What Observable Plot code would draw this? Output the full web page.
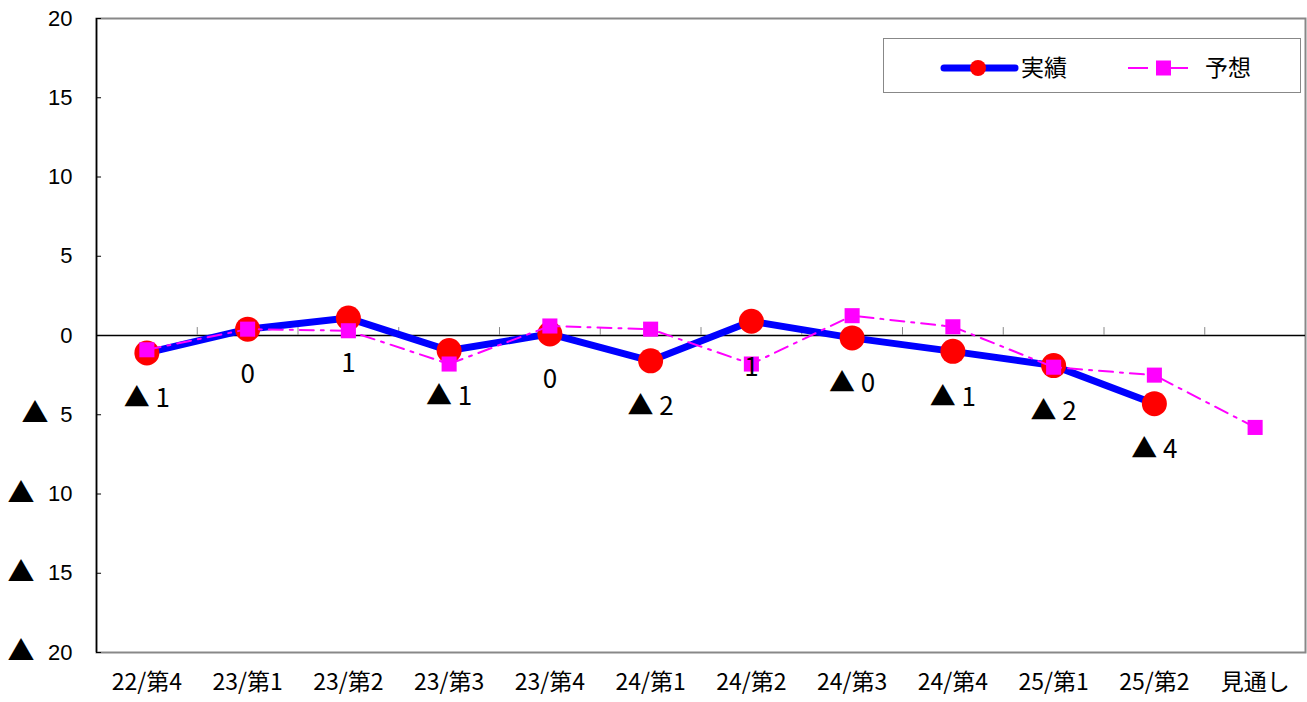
<!DOCTYPE html>
<html>
<head>
<meta charset="utf-8">
<script src="https://cdn.jsdelivr.net/npm/d3@7"></script>
<script src="https://cdn.jsdelivr.net/npm/@observablehq/plot@0.6"></script>
<style>
  html, body { margin: 0; padding: 0; background: #fff; }
  #wrap { position: relative; width: 1307px; height: 702px; }
  #legend { position: absolute; left: 883px; top: 38px; width: 418px; height: 55px;
    border: 1px solid #888; background: #fff; box-sizing: border-box; }
  #legend svg { position: absolute; left: 0; top: 0; }
</style>
</head>
<body>
<div id="wrap"></div>
<script>
const categories = ["22/第4","23/第1","23/第2","23/第3","23/第4","24/第1","24/第2","24/第3","24/第4","25/第1","25/第2","見通し"];
const actual = [-1.1, 0.4, 1.1, -0.95, 0.1, -1.6, 0.9, -0.15, -1.0, -1.9, -4.3];
const forecast = [-0.9, 0.4, 0.3, -1.8, 0.6, 0.4, -1.8, 1.25, 0.55, -2.0, -2.5, -5.8];
const actualLabels = ["▲ 1","0","1","▲ 1","0","▲ 2","1","▲ 0","▲ 1","▲ 2","▲ 4"];
const yTicks = [-20, -15, -10, -5, 0, 5, 10, 15, 20];
const seriesNames = ["実績", "予想"];

const actualData = actual.map((v, i) => ({i, v, label: actualLabels[i]}));
const forecastData = forecast.map((v, i) => ({i, v}));
const idx = d3.range(categories.length);
const bounds = d3.range(0.5, categories.length - 1, 1);
const negOne = yTicks.filter(d => d < 0 && -d < 10);
const negTwo = yTicks.filter(d => d <= -10);

const jp = "'Noto Sans CJK JP', sans-serif";
const sans = "'Liberation Sans', Arial, sans-serif";

const chart = Plot.plot({
  width: 1307,
  height: 702,
  marginLeft: 96,
  marginRight: 2,
  marginTop: 18,
  marginBottom: 50,
  style: {background: "#fff", overflow: "visible"},
  x: {type: "linear", domain: [-0.5, categories.length - 0.5], label: null},
  y: {type: "linear", domain: [-20, 20], label: null},
  marks: [
    Plot.frame({stroke: "#888", strokeWidth: 2}),
    Plot.ruleX([-0.5], {stroke: "#000", strokeWidth: 1.5}),
    Plot.ruleY(yTicks, {x1: -0.5, x2: -0.45, stroke: "#000"}),
    Plot.ruleY([0], {stroke: "#000", strokeWidth: 1.5}),
    Plot.ruleX(bounds, {y1: 0, y2: 0.5, stroke: "#888"}),
    Plot.axisY(yTicks, {tickSize: 0, tickPadding: 24, fontSize: 22, label: null,
      fontFamily: sans, tickFormat: d => `${Math.abs(d)}`}),
    Plot.text(negOne, {y: d => d, frameAnchor: "left", text: () => "▲", textAnchor: "end",
      dx: -48, fontSize: 27, fontFamily: jp, fill: "#000"}),
    Plot.text(negTwo, {y: d => d, frameAnchor: "left", text: () => "▲", textAnchor: "end",
      dx: -62, fontSize: 27, fontFamily: jp, fill: "#000"}),
    Plot.axisX(idx, {tickSize: 0, tickPadding: 21, fontSize: 23, fontFamily: jp, label: null,
      tickFormat: i => categories[i]}),
    Plot.line(actualData, {x: "i", y: "v", stroke: "#0000FF", strokeWidth: 7}),
    Plot.dot(actualData, {x: "i", y: "v", r: 12.5, fill: "#FF0000", stroke: "none"}),
    Plot.line(forecastData, {x: "i", y: "v", stroke: "#FF00FF", strokeWidth: 2, strokeDasharray: "14,7,3,7"}),
    Plot.dot(forecastData, {x: "i", y: "v", r: 8.5, symbol: "square", fill: "#FF00FF", stroke: "none"}),
    Plot.text(actualData, {x: "i", y: "v", text: "label", dy: 46, fontSize: 26, fontFamily: jp, fill: "#000"})
  ]
});

const wrap = document.getElementById("wrap");
wrap.appendChild(chart);

// legend
const legend = document.createElement("div");
legend.id = "legend";
legend.innerHTML = `
<svg width="418" height="55" xmlns="http://www.w3.org/2000/svg" font-family="'Noto Sans CJK JP', sans-serif" font-size="23">
  <line x1="60" y1="29" x2="131" y2="29" stroke="#0000FF" stroke-width="7" stroke-linecap="round"/>
  <circle cx="94" cy="29" r="8" fill="#FF0000"/>
  <text x="137" y="29" dy="0.36em" fill="#000">${seriesNames[0]}</text>
  <line x1="244" y1="29" x2="264" y2="29" stroke="#FF00FF" stroke-width="2"/>
  <rect x="272" y="21.5" width="15" height="15" fill="#FF00FF"/>
  <line x1="287" y1="29" x2="304" y2="29" stroke="#FF00FF" stroke-width="2"/>
  <text x="321" y="29" dy="0.36em" fill="#000">${seriesNames[1]}</text>
</svg>`;
wrap.appendChild(legend);
</script>
</body>
</html>
